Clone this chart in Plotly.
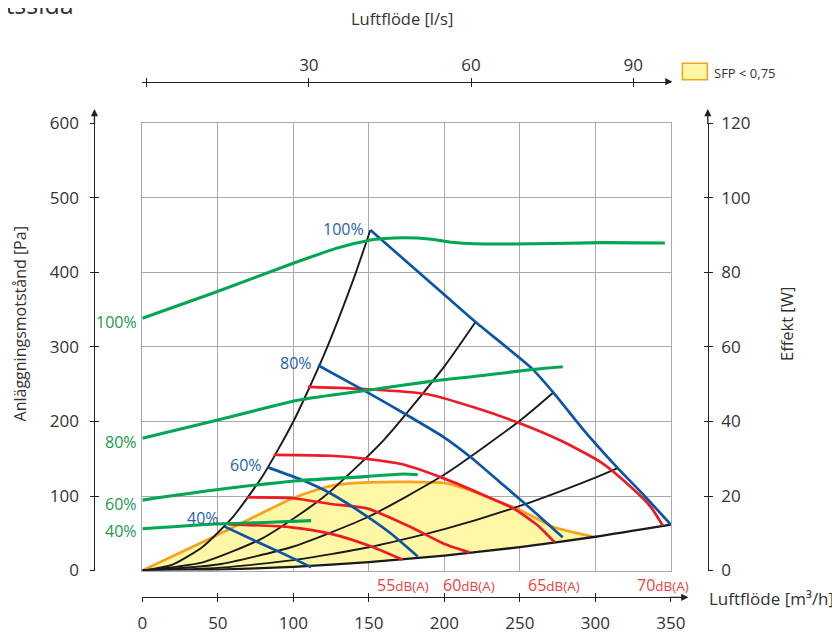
import plotly.graph_objects as go

FONT = "Open Sans"

# ---------------- data ----------------
# System curves (black): pressure [Pa] vs airflow [m3/h]
sys1_x = [0, 20, 40, 60, 80, 100, 120, 140, 151]
sys1_y = [0, 8, 32, 72, 128, 200, 288, 392, 457]
sys2_x = [0, 40, 80, 120, 160, 200, 220.6]
sys2_y = [0, 11, 43.8, 98.6, 175.4, 274, 333.5]
sys3_x = [0, 50, 100, 150, 200, 250, 272.2]
sys3_y = [0, 8, 32.2, 72.5, 128.8, 201, 238.8]
sys4_x = [0, 50, 100, 150, 200, 250, 300, 314.8]
sys4_y = [0, 3.5, 13.9, 31.2, 55.5, 86.7, 124.8, 137.5]
sys5_x = [0, 50, 100, 150, 200, 250, 300, 350]
sys5_y = [0, 1.3, 5, 11.3, 20.1, 31.4, 45.3, 61.6]

# Fan curves (blue)
fan100_x = [151, 200, 220.6, 257.4, 272.2, 292.7, 314.8, 332.4, 350]
fan100_y = [457, 370, 333.5, 272.3, 238.8, 187.5, 137.5, 100.4, 61.6]
fan80_x = [116.3, 149.4, 178, 200, 217.7, 240, 260, 278.4]
fan80_y = [275.5, 238.8, 205.3, 178.5, 151.7, 113, 78, 44.6]
fan60_x = [83.2, 105, 125, 147, 165, 182.4]
fan60_y = [138.4, 122, 103, 75, 49, 18.7]
fan40_x = [54.5, 76.6, 95, 111.8]
fan40_y = [58.9, 37.9, 21, 4.5]
fan_labels = ["100%", "80%", "60%", "40%"]

# Sound level curves (red)
db70_x = [109.7, 149.4, 189, 220, 248.6, 277.3, 303.8, 323.7, 336.9, 344.6]
db70_y = [246.4, 243.3, 236.6, 218.7, 198.6, 174.1, 145, 111.6, 84.8, 60.3]
db65_x = [87.1, 125, 149.8, 171.4, 197.9, 224.4, 246.4, 261.9, 272.9]
db65_y = [155.3, 154, 149.6, 142.9, 125, 102.7, 82.6, 60.3, 38]
db60_x = [69.5, 98.6, 125, 149.4, 178, 200, 216.6]
db60_y = [98.2, 97.3, 89.3, 83, 58, 35.7, 24.5]
db55_x = [57, 98.6, 125, 149.8, 172.5]
db55_y = [62, 58, 49.1, 33.5, 14.3]
db_labels = ["55", "60", "65", "70"]

# Power curves (green), Effekt [W]
p100_x = [0, 47.9, 100.8, 129.5, 149.8, 160.4, 173, 190, 205, 220, 260, 304, 346]
p100_y = [67.7, 74.6, 82.6, 86.6, 88.6, 89.1, 89.3, 89.0, 88.1, 87.7, 87.7, 88.0, 87.9]
p80_x = [0, 47.9, 103, 149.4, 193.4, 222.2, 259.6, 278.4]
p80_y = [35.5, 40.2, 45.7, 48.4, 50.9, 52.2, 54, 54.7]
p60_x = [0, 47.9, 103, 146.9, 173.6, 182.4]
p60_y = [18.9, 21.6, 24.1, 25.2, 25.9, 25.7]
p40_x = [0, 47.9, 80.9, 111.8]
p40_y = [11.2, 12.5, 12.9, 13.4]
power_labels = ["100%", "80%", "60%", "40%"]

# SFP < 0,75 area upper boundary (orange)
sfp_x = [0, 48, 98.6, 115, 129.5, 149.8, 175, 200, 215, 228.8, 248.6, 260, 272.9, 298]
sfp_y = [0, 46, 96, 108, 115.2, 118.3, 119, 117.5, 109, 98.2, 82.6, 71, 58, 45.5]
sfp_label = "SFP < 0,75"

pa_ticks = [0, 100, 200, 300, 400, 500, 600]
w_ticks = [0, 20, 40, 60, 80, 100, 120]
m3h_ticks = [0, 50, 100, 150, 200, 250, 300, 350]
ls_ticks = [0, 30, 60, 90]
ls_text = ["", "30", "60", "90"]
X_MAX = 350
LS_RANGE = [-0.8, 96.97]   # l/s scale as printed (slightly offset from the m3/h grid)

GREEN = "#00a651"
BLUE = "#0a55a5"
RED = "#ed1c24"
BLACK = "#1a1a1a"
ORANGE = "#f7a21b"
YELLOW = "#fff7a6"
GRID = "#a9a9a9"
AXC = "#222222"
TXT = "#333333"

FW, FH = 840, 635
# measured mapping figure-px -> photographed-px (scale, offset)
SX, OX = 0.978, 13.4
SY, OY = 0.969, 18.5


def px(rx):
    """photo x -> paper fraction"""
    return ((rx - OX) / SX) / FW


def py(ry):
    """photo y -> paper fraction"""
    return 1 - ((ry - OY) / SY) / FH


fig = go.Figure()

bottom_x = [x for x in sys5_x if x <= 300][::-1]
bottom_y = [y for x, y in zip(sys5_x, sys5_y) if x <= 300][::-1]
fig.add_trace(go.Scatter(x=sfp_x + bottom_x, y=sfp_y + bottom_y, mode="lines",
                         fill="toself", fillcolor=YELLOW, line=dict(width=0),
                         hoverinfo="skip", showlegend=False))
fig.add_trace(go.Scatter(x=sfp_x, y=sfp_y, mode="lines",
                         line=dict(color=ORANGE, width=2.7, shape="spline", smoothing=0.6),
                         hoverinfo="skip", showlegend=False))

for xs, ys, w in [(sys1_x, sys1_y, 1.9), (sys2_x, sys2_y, 1.9), (sys3_x, sys3_y, 1.9),
                  (sys4_x, sys4_y, 1.9), (sys5_x, sys5_y, 2.3)]:
    fig.add_trace(go.Scatter(x=xs, y=ys, mode="lines",
                             line=dict(color=BLACK, width=w, shape="spline", smoothing=0.6),
                             hoverinfo="skip", showlegend=False))

for xs, ys in [(db55_x, db55_y), (db60_x, db60_y), (db65_x, db65_y), (db70_x, db70_y)]:
    fig.add_trace(go.Scatter(x=xs, y=ys, mode="lines",
                             line=dict(color=RED, width=2.7, shape="spline", smoothing=0.6),
                             hoverinfo="skip", showlegend=False))

fans = [(fan100_x, fan100_y), (fan80_x, fan80_y), (fan60_x, fan60_y), (fan40_x, fan40_y)]
for xs, ys in fans:
    fig.add_trace(go.Scatter(x=xs, y=ys, mode="lines",
                             line=dict(color=BLUE, width=2.7, shape="spline", smoothing=0.5),
                             hoverinfo="skip", showlegend=False))

powers = [(p100_x, p100_y), (p80_x, p80_y), (p60_x, p60_y), (p40_x, p40_y)]
for xs, ys in powers:
    fig.add_trace(go.Scatter(x=xs, y=ys, mode="lines", yaxis="y2",
                             line=dict(color=GREEN, width=3.1, shape="spline", smoothing=0.6),
                             hoverinfo="skip", showlegend=False))

for xa, ya in [("x2", "y"), ("x3", "y"), ("x4", "y"), ("x5", "y"),
               ("x", "y3"), ("x", "y4"), ("x", "y5")]:
    fig.add_trace(go.Scatter(x=[], y=[], xaxis=xa, yaxis=ya, showlegend=False,
                             hoverinfo="skip"))

tickfont = dict(family=FONT, size=17, color=TXT)
XD = [px(143), px(672.5)]
YD = [py(572), py(122.5)]
LEFT_X, RIGHT_X, BOT_Y, TOP_Y = 95, 709.5, 599, 80.5
tk = dict(showgrid=False, zeroline=False, ticklen=4, tickcolor=AXC, tickwidth=1.2)

layout = dict(
    width=FW, height=FH,
    margin=dict(l=0, r=0, t=0, b=0),
    paper_bgcolor="white", plot_bgcolor="white",
    font=dict(family=FONT, color=TXT),
    showlegend=False,
    xaxis=dict(domain=XD, range=[0, X_MAX], tickvals=m3h_ticks, showgrid=True,
               gridcolor=GRID, gridwidth=1.3, showline=True, linecolor=GRID,
               linewidth=1.3, mirror=True, ticks="", showticklabels=False,
               zeroline=False, anchor="y"),
    yaxis=dict(domain=YD, range=[0, 600], tickvals=pa_ticks, showgrid=True,
               gridcolor=GRID, gridwidth=1.3, showline=True, linecolor=GRID,
               linewidth=1.3, mirror=True, ticks="", showticklabels=False,
               zeroline=False, anchor="x"),
    yaxis2=dict(overlaying="y", anchor="free", position=px(RIGHT_X), side="right",
                range=[0, 120], tickvals=w_ticks, showline=True, linecolor=AXC,
                linewidth=1.2, ticks="outside", tickfont=tickfont,
                ticklabelstandoff=5, **tk),
    yaxis5=dict(overlaying="y", anchor="free", position=px(RIGHT_X), side="right",
                range=[0, 120], tickvals=w_ticks, showline=False, ticks="inside",
                showticklabels=False, **tk),
    yaxis3=dict(overlaying="y", anchor="free", position=px(LEFT_X), side="left",
                range=[0, 600], tickvals=pa_ticks, showline=True, linecolor=AXC,
                linewidth=1.2, ticks="outside", tickfont=tickfont,
                ticklabelstandoff=8, **tk),
    yaxis4=dict(overlaying="y", anchor="free", position=px(LEFT_X), side="left",
                range=[0, 600], tickvals=pa_ticks, showline=False, ticks="inside",
                showticklabels=False, **tk),
    xaxis2=dict(overlaying="x", anchor="free", position=py(BOT_Y), side="bottom",
                range=[0, X_MAX], tickvals=m3h_ticks, showline=True, linecolor=AXC,
                linewidth=1.2, ticks="outside", tickfont=tickfont,
                ticklabelstandoff=6, **tk),
    xaxis4=dict(overlaying="x", anchor="free", position=py(BOT_Y), side="bottom",
                range=[0, X_MAX], tickvals=m3h_ticks, showline=False, ticks="inside",
                showticklabels=False, **tk),
    xaxis3=dict(overlaying="x", anchor="free", position=py(TOP_Y), side="top",
                range=LS_RANGE, tickvals=ls_ticks, ticktext=ls_text,
                showline=True, linecolor=AXC, linewidth=1.2, ticks="outside",
                tickfont=tickfont, ticklabelstandoff=0, **tk),
    xaxis5=dict(overlaying="x", anchor="free", position=py(TOP_Y), side="top",
                range=LS_RANGE, tickvals=ls_ticks, showline=False, ticks="inside",
                showticklabels=False, **tk),
)
fig.update_layout(**layout)

ann = []


def arrow(hx, hy, tx, ty):
    ann.append(dict(xref="paper", yref="paper", x=px(hx), y=py(hy),
                    ax=(tx - hx) / SX, ay=(ty - hy) / SY,
                    axref="pixel", ayref="pixel", text="", showarrow=True,
                    arrowhead=2, arrowsize=1.1, arrowwidth=1.3, arrowcolor=AXC))


arrow(LEFT_X, 108, LEFT_X, 124)       # left axis
arrow(RIGHT_X, 108, RIGHT_X, 124)     # right axis
arrow(690, BOT_Y, 670, BOT_Y)         # bottom axis
arrow(674, TOP_Y, 668, TOP_Y)         # top axis


def ptext(rx, ry, text, size=16.5, xanchor="center", yanchor="middle", angle=0, color=TXT):
    ann.append(dict(xref="paper", yref="paper", x=px(rx), y=py(ry), text=text,
                    xanchor=xanchor, yanchor=yanchor, textangle=angle, showarrow=False,
                    font=dict(family=FONT, size=size, color=color)))


ptext(403, 17, "Luftflöde [l/s]")
ptext(708.5, 600, "Luftflöde [m³/h]", size=17, xanchor="left")
ptext(20, 324, "Anläggningsmotstånd [Pa]", size=16, angle=-90)
ptext(789, 324, "Effekt [W]", angle=-90)
# heading cut off by the top edge, as in the reference
ptext(77, 22, "Tilluftssida", size=25, xanchor="right", yanchor="bottom")

# legend
fig.add_shape(type="rect", xref="paper", yref="paper", x0=px(684), x1=px(709),
              y0=py(78.5), y1=py(62), fillcolor=YELLOW, line=dict(color=ORANGE, width=1.5))
ptext(714, 72, sfp_label, size=13, xanchor="left")

for lab, (xs, ys), ysh in zip(power_labels, powers, [-4, -4, -4, -2]):
    ann.append(dict(xref="x", yref="y2", x=xs[0], y=ys[0], xanchor="right",
                    yanchor="middle", xshift=-3, yshift=ysh, text=lab, showarrow=False,
                    font=dict(family=FONT, size=16, color="#1a9a4c")))
for lab, (xs, ys), ysh in zip(fan_labels, fans, [1, 2, 2, 9]):
    ann.append(dict(xref="x", yref="y", x=xs[0], y=ys[0], xanchor="right",
                    yanchor="middle", xshift=-4, yshift=ysh, text=lab, showarrow=False,
                    font=dict(family=FONT, size=16, color="#1f5fae")))
for lab, xs in zip(db_labels, [db55_x, db60_x, db65_x, db70_x]):
    ann.append(dict(xref="x", yref="y", x=xs[-1], y=0, xanchor="center", yanchor="top",
                    yshift=-1, text=lab + "<span style='font-size:13.5px'>dB(A)</span>",
                    showarrow=False, font=dict(family=FONT, size=16, color="#ef4040")))

fig.update_layout(annotations=ann)
fig.write_html("out.html")
